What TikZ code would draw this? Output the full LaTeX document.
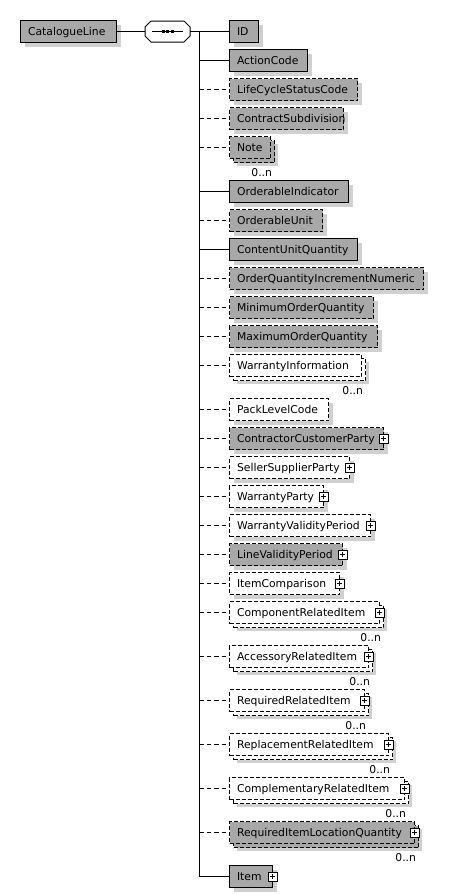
\documentclass[tikz,border=0pt]{standalone}
\usepackage{fontspec}
\setmainfont{DejaVu Sans}
\usetikzlibrary{shadows}
\definecolor{boxgrey}{HTML}{A8A8A8}
\definecolor{shgrey}{HTML}{D0D0D0}
\begin{document}
\begin{tikzpicture}[x=1pt,y=-1pt,line width=1pt,
  font=\fontsize{10.8}{12}\selectfont,
  dashpat/.style={dash pattern=on 4pt off 2pt},
  conndash/.style={dash pattern=on 4.5pt off 3pt},
  base/.style={draw, anchor=west, minimum height=22pt, inner xsep=7.5pt, inner ysep=0pt,
    text height=7.9pt, text depth=0pt, align=left},
  shad/.style={general shadow={shadow xshift=4pt,shadow yshift=-4pt,fill=shgrey}},
  gsolid/.style={base, fill=boxgrey, shad},
  gdash/.style={base, fill=boxgrey, dashpat, shad},
  wdash/.style={base, fill=white, dashpat, shad},
  multi/.style={base, fill=#1, dashpat,
    general shadow={shadow xshift=7pt,shadow yshift=-7pt,fill=shgrey},
    general shadow={shadow xshift=4pt,shadow yshift=-4pt,fill=#1,draw=black,dash pattern=on 4pt off 2pt}},
  gmulti/.style={multi=boxgrey},
  wmulti/.style={multi=white},
  plus/.style={draw, solid, fill=white, minimum size=9pt, inner sep=0pt,
    path picture={\draw[line width=1pt] ([xshift=2pt]path picture bounding box.west) -- ([xshift=-2pt]path picture bounding box.east)
      ([yshift=-2pt]path picture bounding box.north) -- ([yshift=2pt]path picture bounding box.south);}},
  lbl/.style={inner sep=0pt, text height=7.9pt, text depth=0pt, anchor=east},
  seqbox/.style={minimum width=45pt, minimum height=21pt, inner sep=0pt, outer sep=0pt}
]
\useasboundingbox[fill=white] (0,0) rectangle (448,894);

% root and sequence
\node[gsolid, text width=81pt] (cat) at (20,31.5) {CatalogueLine};
\node[seqbox] (seq) at (167.5,31.5) {};
\fill[shgrey, shift={(4,4)}] ([xshift=6pt]seq.north west) -- ([xshift=-6pt]seq.north east) -- ([yshift=-6pt]seq.north east)
  -- ([yshift=6pt]seq.south east) -- ([xshift=-6pt]seq.south east) -- ([xshift=6pt]seq.south west)
  -- ([yshift=6pt]seq.south west) -- ([yshift=-6pt]seq.north west) -- cycle;
\draw[fill=white] ([xshift=6pt]seq.north west) -- ([xshift=-6pt]seq.north east) -- ([yshift=-6pt]seq.north east)
  -- ([yshift=6pt]seq.south east) -- ([xshift=-6pt]seq.south east) -- ([xshift=6pt]seq.south west)
  -- ([yshift=6pt]seq.south west) -- ([yshift=-6pt]seq.north west) -- cycle;
\draw ([xshift=7pt]seq.west) -- ([xshift=-7pt]seq.east);
\fill ([xshift=-6pt,yshift=1.5pt]seq.center) rectangle +(3,3);
\fill ([xshift=-1.5pt,yshift=1.5pt]seq.center) rectangle +(3,3);
\fill ([xshift=3pt,yshift=1.5pt]seq.center) rectangle +(3,3);
\coordinate (spine) at (199,31.5);

% children
\node[gsolid, text width=14pt] (id) at (229,31.5) {ID};
\node[gsolid, text width=63pt] (ac) at (229,60.5) {ActionCode};
\node[gdash, text width=113pt] (lcs) at (229,89.5) {LifeCycleStatusCode};
\node[gdash, text width=99pt] (cs) at (229,118.5) {ContractSubdivision};
\node[gmulti, text width=26pt] (note) at (229,147.5) {Note};
\node[gsolid, text width=104pt] (oi) at (229,191.5) {OrderableIndicator};
\node[gdash, text width=78pt] (ou) at (229,220.5) {OrderableUnit};
\node[gsolid, text width=113pt] (cuq) at (229,249.5) {ContentUnitQuantity};
\node[gdash, text width=179pt] (oqin) at (229,278.5) {OrderQuantityIncrementNumeric};
\node[gdash, text width=129pt] (minq) at (229,307.5) {MinimumOrderQuantity};
\node[gdash, text width=133pt] (maxq) at (229,336.5) {MaximumOrderQuantity};
\node[wmulti, text width=117pt] (wi) at (229,365.5) {WarrantyInformation};
\node[wdash, text width=84pt] (plc) at (229,409.5) {PackLevelCode};
\node[gdash, text width=139pt] (ccp) at (229,438.5) {ContractorCustomerParty};
\node[wdash, text width=105pt] (ssp) at (229,467.5) {SellerSupplierParty};
\node[wdash, text width=79pt] (wp) at (229,496.5) {WarrantyParty};
\node[wdash, text width=126pt] (wvp) at (229,525.5) {WarrantyValidityPeriod};
\node[gdash, text width=98pt] (lvp) at (229,554.5) {LineValidityPeriod};
\node[wdash, text width=95pt] (ic) at (229,583.5) {ItemComparison};
\node[wmulti, text width=135pt] (cri) at (229,612.5) {ComponentRelatedItem};
\node[wmulti, text width=124pt] (ari) at (229,656.5) {AccessoryRelatedItem};
\node[wmulti, text width=120pt] (rri) at (229,700.5) {RequiredRelatedItem};
\node[wmulti, text width=144pt] (repi) at (229,744.5) {ReplacementRelatedItem};
\node[wmulti, text width=160pt] (cmi) at (229,788.5) {ComplementaryRelatedItem};
\node[gmulti, text width=170pt] (rilq) at (229,832.5) {RequiredItemLocationQuantity};
\node[gsolid, text width=28pt] (item) at (229,876.5) {Item};

% plus icons
\foreach \n in {ccp,ssp,wp,wvp,lvp,ic,cri,ari,rri,repi,cmi,rilq,item}
  \node[plus] (\n-p) at ([xshift=-0.5pt]\n.east) {};

% occurrence labels
\foreach \n in {note,wi,cri,ari,rri,repi,cmi,rilq}
  \node[lbl] (\n-m) at ([xshift=1.5pt,yshift=-14pt]\n.south east) {0..n};

% connectors
\draw (cat.east) -- (seq.west);
\draw (seq.east) -- (id.west);
\draw (spine) |- (item.west);
\foreach \n in {ac,oi,cuq}
  \draw (spine |- \n.west) -- (\n.west);
\foreach \n in {lcs,cs,note,ou,oqin,minq,maxq,wi,plc,ccp,ssp,wp,wvp,lvp,ic,cri,ari,rri,repi,cmi,rilq}
  \draw[conndash] (spine |- \n.west) -- (\n.west);
\end{tikzpicture}
\end{document}
